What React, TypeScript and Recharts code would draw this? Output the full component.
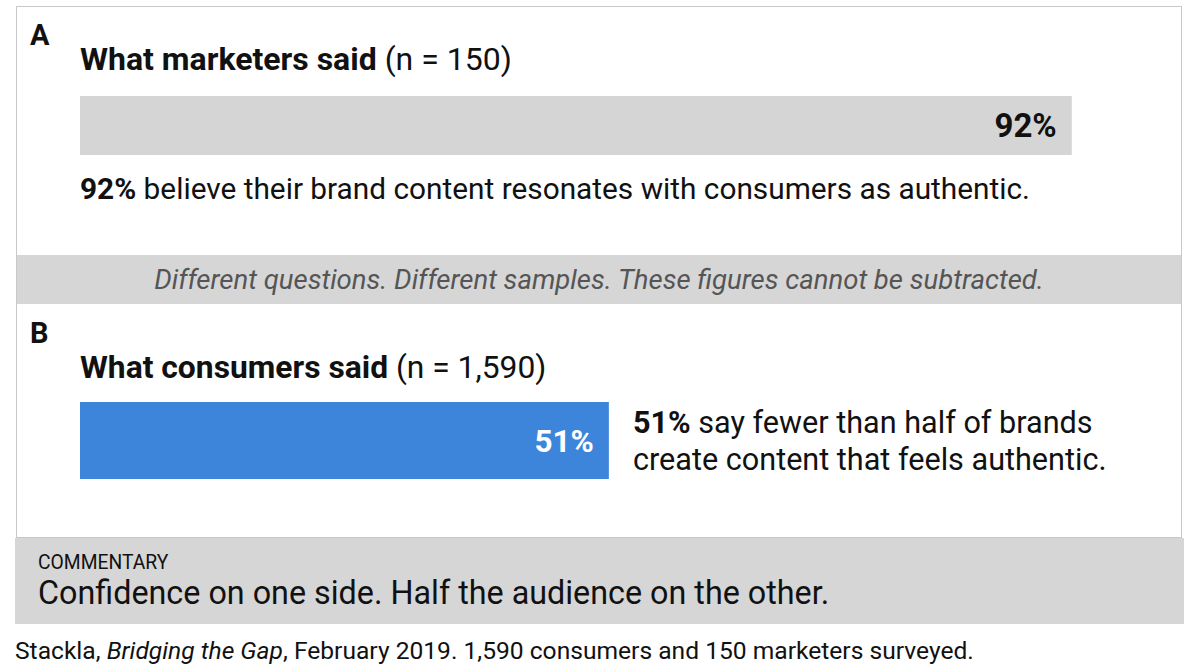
import React from "react";
import { BarChart, Bar, XAxis, YAxis, LabelList } from "recharts";

const marketersData = [{ group: "Marketers", value: 92 }];
const consumersData = [{ group: "Consumers", value: 51 }];
const valueDomain: [number, number] = [0, 100];

const FONT = "Roboto, 'Liberation Sans', Arial, sans-serif";

const pct = (v: any) => `${v}%`;

function SingleBar({
  data,
  width,
  height,
  fill,
  labelColor,
  labelSize,
}: {
  data: { group: string; value: number }[];
  width: number;
  height: number;
  fill: string;
  labelColor: string;
  labelSize: number;
}) {
  return (
    <BarChart
      width={width}
      height={height}
      data={data}
      layout="vertical"
      margin={{ top: 0, right: 0, bottom: 0, left: 0 }}
      barCategoryGap="0%"
      barGap={0}
    >
      <XAxis type="number" domain={valueDomain} hide />
      <YAxis type="category" dataKey="group" hide padding={{ top: 0, bottom: 0 }} />
      <Bar dataKey="value" fill={fill} isAnimationActive={false}>
        <LabelList
          dataKey="value"
          position="insideRight"
          offset={15}
          formatter={pct}
          style={{ fill: labelColor, fontFamily: FONT, fontWeight: 700, fontSize: labelSize }}
        />
      </Bar>
    </BarChart>
  );
}

export default function App() {
  const abs = (s: React.CSSProperties): React.CSSProperties => ({ position: "absolute", ...s });
  return (
    <div
      style={{
        position: "fixed",
        left: 0,
        top: 0,
        width: 1200,
        height: 670,
        background: "#ffffff",
        fontFamily: FONT,
        color: "#111",
        overflow: "hidden",
      }}
    >
      {/* frame */}
      <div style={abs({ left: 16, top: 6, width: 1166, height: 532, border: "1.5px solid #c9c9c9", boxSizing: "border-box" })} />
      {/* A */}
      <div style={abs({ left: 30, top: 19, fontSize: 29, fontWeight: 700, lineHeight: "32px" })}>A</div>
      <div style={abs({ left: 80, top: 41, fontSize: 32, lineHeight: "36px", whiteSpace: "nowrap" })}>
        <span style={{ fontWeight: 700 }}>What marketers said</span> (n = 150)
      </div>
      <div style={abs({ left: 80, top: 96 })}>
        <SingleBar data={marketersData} width={1078} height={59} fill="#d5d5d5" labelColor="#111" labelSize={33} />
      </div>
      <div style={abs({ left: 80, top: 172, fontSize: 29.8, lineHeight: "34px", whiteSpace: "nowrap" })}>
        <span style={{ fontWeight: 700 }}>92%</span> believe their brand content resonates with consumers as authentic.
      </div>
      {/* separator band */}
      <div
        style={abs({
          left: 17,
          top: 255,
          width: 1164,
          height: 49,
          background: "#d6d6d6",
          display: "flex",
          alignItems: "center",
          justifyContent: "center",
          fontStyle: "italic",
          fontSize: 27.5,
          color: "#555",
          whiteSpace: "nowrap",
        })}
      >
        Different questions. Different samples. These figures cannot be subtracted.
      </div>
      {/* B */}
      <div style={abs({ left: 30, top: 317, fontSize: 29, fontWeight: 700, lineHeight: "32px" })}>B</div>
      <div style={abs({ left: 80, top: 349, fontSize: 31.8, lineHeight: "36px", whiteSpace: "nowrap" })}>
        <span style={{ fontWeight: 700 }}>What consumers said</span> (n = 1,590)
      </div>
      <div style={abs({ left: 80, top: 402 })}>
        <SingleBar data={consumersData} width={1037} height={77} fill="#3d85db" labelColor="#ffffff" labelSize={31.5} />
      </div>
      <div style={abs({ left: 633, top: 404, fontSize: 30.6, lineHeight: "37px", whiteSpace: "nowrap", background: "#fff", paddingRight: 10 })}>
        <div>
          <span style={{ fontWeight: 700 }}>51%</span> say fewer than half of brands
        </div>
        <div>create content that feels authentic.</div>
      </div>
      {/* commentary */}
      <div style={abs({ left: 15, top: 538, width: 1169, height: 86, background: "#d6d6d6" })}>
        <div style={abs({ left: 23, top: 14, fontSize: 19.3, lineHeight: "22px" })}>COMMENTARY</div>
        <div style={abs({ left: 23, top: 37, fontSize: 32.3, lineHeight: "36px", whiteSpace: "nowrap" })}>
          Confidence on one side. Half the audience on the other.
        </div>
      </div>
      {/* footer */}
      <div style={abs({ left: 15, top: 637, fontSize: 24.6, lineHeight: "28px", whiteSpace: "nowrap" })}>
        Stackla, <i>Bridging the Gap</i>, February 2019. 1,590 consumers and 150 marketers surveyed.
      </div>
    </div>
  );
}
